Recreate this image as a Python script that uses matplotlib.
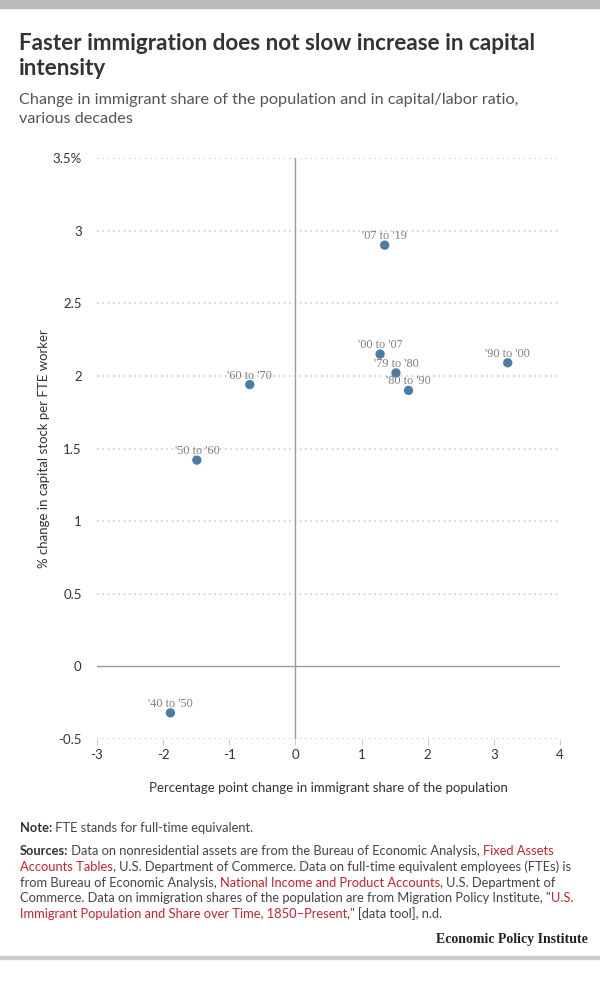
import matplotlib
matplotlib.use("Agg")
import matplotlib.pyplot as plt
from matplotlib.patches import Rectangle

labels = ["'07 to '19", "'00 to '07", "'79 to '80", "'80 to '90", "'90 to '00",
          "'60 to '70", "'50 to '60", "'40 to '50"]
immig_change = [1.35, 1.28, 1.52, 1.71, 3.21, -0.69, -1.49, -1.89]
capital_change = [2.90, 2.15, 2.02, 1.90, 2.09, 1.94, 1.42, -0.32]
x_ticks = [-3, -2, -1, 0, 1, 2, 3, 4]
y_ticks = [-0.5, 0, 0.5, 1, 1.5, 2, 2.5, 3, 3.5]
y_ticklabels = ["-0.5", "0", "0.5", "1", "1.5", "2", "2.5", "3", "3.5%"]

SANS = ["Lato", "DejaVu Sans"]
plt.rcParams["font.family"] = SANS

W, H = 600, 981
fig = plt.figure(figsize=(W / 100, H / 100), dpi=100)

def fy(y):
    return 1 - y / H

def fx(x):
    return x / W

# top bar and bottom rule
fig.patches.append(Rectangle((0, fy(8)), 1, 8 / H, transform=fig.transFigure,
                             color="#bbbbbb", zorder=0))
fig.patches.append(Rectangle((0, fy(959)), 1, 3 / H, transform=fig.transFigure,
                             color="#cccccc", zorder=0))

fig.text(fx(19), fy(50), "Faster immigration does not slow increase in capital",
         fontsize=16.2, fontweight="bold", color="#333333", va="baseline")
fig.text(fx(19), fy(75), "intensity",
         fontsize=16.2, fontweight="bold", color="#333333", va="baseline")
fig.text(fx(19), fy(104), "Change in immigrant share of the population and in capital/labor ratio,",
         fontsize=11.7, color="#555555", va="baseline")
fig.text(fx(19), fy(123), "various decades",
         fontsize=11.7, color="#555555", va="baseline")

ax = fig.add_axes([fx(97), fy(739), fx(560) - fx(97), fy(158) - fy(739)])
ax.set_xlim(-3, 4)
ax.set_ylim(-0.5, 3.5)
for s in ax.spines.values():
    s.set_visible(False)
ax.set_yticks(y_ticks)
ax.set_yticklabels(y_ticklabels)
ax.set_xticks(x_ticks)
ax.set_xticklabels([str(t) for t in x_ticks])
ax.tick_params(axis="y", length=0, pad=11, labelsize=9.5, labelcolor="#333333")
ax.tick_params(axis="x", length=4, width=0.8, color="#cccccc", pad=3,
               labelsize=9.5, labelcolor="#333333")
for yv in y_ticks:
    if yv != 0:
        ax.axhline(yv, color="#cccccc", lw=1.2, ls=(0, (1, 2.2)), zorder=0)
ax.axhline(0, color="#999999", lw=1, zorder=1)
ax.axvline(0, color="#999999", lw=1, zorder=1)

ax.scatter(immig_change, capital_change, s=45, color="#4a7da6", zorder=3,
           edgecolors="none")
for lab, xv, yv in zip(labels, immig_change, capital_change):
    ax.annotate(lab, (xv, yv), xytext=(0, 6.5), textcoords="offset points",
                ha="center", va="center", fontsize=8.8,
                family=["Liberation Serif"], color="#808080", zorder=4)

ax.set_xlabel("Percentage point change in immigrant share of the population",
              fontsize=9.5, color="#333333", labelpad=15)
ax.set_ylabel("% change in capital stock per FTE worker",
              fontsize=9.5, color="#333333", labelpad=2)

# footnotes
FS = 9.3
GRAY = "#444444"
RED = "#c8232c"


def after(artist, txt, col, bold=False):
    return fig.add_artist(matplotlib.text.Annotation(
        txt, xy=(1, 0), xycoords=artist, xytext=(0, 0), textcoords="offset pixels",
        ha="left", va="bottom", annotation_clip=False, fontsize=FS, color=col,
        fontweight="bold" if bold else "normal"))


def line(y, parts):
    prev = None
    for txt, col, bold in parts:
        if prev is None:
            prev = fig.text(fx(20), fy(y), txt, va="baseline", fontsize=FS,
                            color=col, fontweight="bold" if bold else "normal")
        else:
            prev = after(prev, txt, col, bold)


line(832, [("Note:", "#333333", True),
           ("\u00a0FTE stands for full-time equivalent.", GRAY, False)])
line(855, [("Sources:", "#333333", True),
           ("\u00a0Data on nonresidential assets are from the Bureau of Economic Analysis,\u00a0", GRAY, False),
           ("Fixed Assets", RED, False)])
line(871, [("Accounts Tables", RED, False),
           (", U.S. Department of Commerce. Data on full-time equivalent employees (FTEs) is", GRAY, False)])
line(887, [("from Bureau of Economic Analysis,\u00a0", GRAY, False),
           ("National Income and Product Accounts", RED, False),
           (", U.S. Department of", GRAY, False)])
line(902, [("Commerce. Data on immigration shares of the population are from Migration Policy Institute, \"", GRAY, False),
           ("U.S.", RED, False)])
line(918, [("Immigrant Population and Share over Time, 1850\u2013Present", RED, False),
           (",\" [data tool], n.d.", GRAY, False)])

fig.text(fx(588), fy(943), "Economic Policy Institute", ha="right", va="baseline",
         fontsize=10, fontweight="bold", family=["Liberation Serif"], color="#222222")

fig.savefig("out.png", dpi=100)
